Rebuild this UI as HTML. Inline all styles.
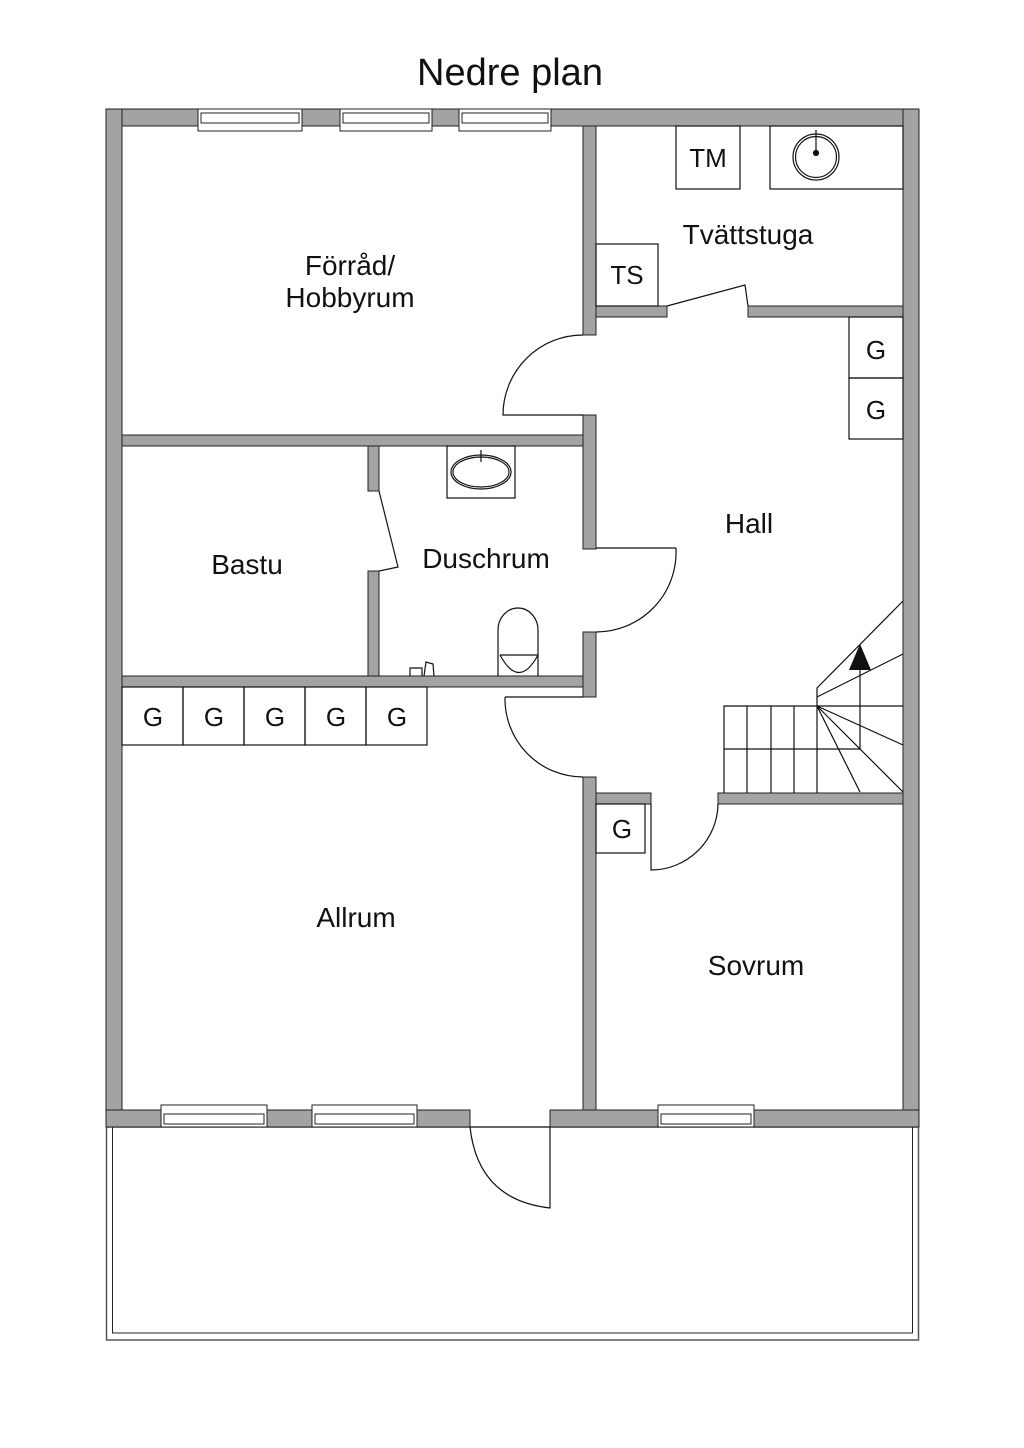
<!DOCTYPE html>
<html><head><meta charset="utf-8"><style>
html,body{margin:0;padding:0;background:#fff}
svg{display:block}
text{font-family:"Liberation Sans",sans-serif;fill:#111}
</style></head><body>
<svg width="1024" height="1448" viewBox="0 0 1024 1448" xmlns="http://www.w3.org/2000/svg">
<text x="510" y="85" font-size="38" text-anchor="middle">Nedre plan</text>

<rect x="106.5" y="1127" width="812" height="213" fill="none" stroke="#555" stroke-width="1.5"/>
<rect x="112.5" y="1127" width="800" height="206" fill="none" stroke="#222" stroke-width="1"/>

<g fill="#a3a3a3" stroke="#222" stroke-width="1">
<rect x="106" y="109" width="813" height="17"/>
<rect x="106" y="109" width="16" height="1018"/>
<rect x="903" y="109" width="16" height="1018"/>
<rect x="106" y="1110" width="364" height="17"/>
<rect x="550" y="1110" width="369" height="17"/>
<rect x="583" y="126" width="13" height="209"/>
<rect x="583" y="415" width="13" height="134"/>
<rect x="583" y="632" width="13" height="65"/>
<rect x="583" y="777" width="13" height="333"/>
<rect x="122" y="435" width="461" height="11"/>
<rect x="122" y="676" width="461" height="11"/>
<rect x="368" y="446" width="11" height="45"/>
<rect x="368" y="571" width="11" height="105"/>
<rect x="596" y="306" width="71" height="11"/>
<rect x="748" y="306" width="155" height="11"/>
<rect x="596" y="793" width="55" height="11"/>
<rect x="718" y="793" width="185" height="11"/>
</g>

<g fill="#fff" stroke="#222" stroke-width="1">
<rect x="198" y="109" width="104" height="22"/><rect x="201" y="113" width="98" height="10"/>
<rect x="340" y="109" width="92" height="22"/><rect x="343" y="113" width="86" height="10"/>
<rect x="459" y="109" width="92" height="22"/><rect x="462" y="113" width="86" height="10"/>
<rect x="161" y="1105" width="106" height="22"/><rect x="164" y="1114" width="100" height="10"/>
<rect x="312" y="1105" width="105" height="22"/><rect x="315" y="1114" width="99" height="10"/>
<rect x="658" y="1105" width="96" height="22"/><rect x="661" y="1114" width="90" height="10"/>
</g>

<g fill="none" stroke="#111" stroke-width="1.2">
<path d="M583 335 A80 80 0 0 0 503 415 L583 415"/>
<path d="M676 548 L596 548 M676 548 A80 80 0 0 1 596 632"/>
<path d="M505 697 L583 697 M505 697 A78 78 0 0 0 583 777"/>
<path d="M651 804 L651 870 A67 67 0 0 0 718 804"/>
<path d="M470 1127 Q478 1200 550 1208 L550 1127"/>
<path d="M667 306 L745 285 L748 306"/>
<path d="M379 491 L398 567 L379 571"/>
<rect x="596" y="244" width="62" height="62"/>
<rect x="676" y="126" width="64" height="63"/>
<rect x="770" y="126" width="133" height="63"/>
<circle cx="816" cy="157" r="23"/><circle cx="816" cy="157" r="20.5"/>
<line x1="816" y1="130" x2="816" y2="152"/>
<circle cx="816" cy="153" r="2.5" fill="#111"/>
<rect x="849" y="317" width="54" height="61"/>
<rect x="849" y="378" width="54" height="61"/>
<rect x="596" y="804" width="49" height="49"/>
<rect x="447" y="446" width="68" height="52"/>
<ellipse cx="481" cy="472" rx="30" ry="17"/><ellipse cx="481" cy="472" rx="28" ry="15"/>
<line x1="481" y1="450" x2="481" y2="462"/>
<path d="M498 676 L498 630 A20 22 0 0 1 538 630 L538 676"/>
<path d="M500 655 L538 655 M500 655 Q519 690 538 655"/>
<path d="M410 676 L410 668 L422 668 L422 676 M424 676 L426 662 L433 664 L434 676"/>
<rect x="122" y="687" width="61" height="58"/>
<rect x="183" y="687" width="61" height="58"/>
<rect x="244" y="687" width="61" height="58"/>
<rect x="305" y="687" width="61" height="58"/>
<rect x="366" y="687" width="61" height="58"/>
<path d="M724 793 V706 H903 M724 749 H860 M747 706 V793 M771 706 V793 M794 706 V793 M817 706 V793"/>
<path d="M817 706 L903 745 M817 706 L903 792 M817 706 L860 792 M817 706 L860 749 M817 706 V688 L903 601 M817 697 L903 654"/>
<path d="M860 749 V668"/>
</g>
<polygon points="860,644 849,670 871,670" fill="#111"/>

<g font-size="28" text-anchor="middle">
<text x="350" y="275">Förråd/</text>
<text x="350" y="307">Hobbyrum</text>
<text x="748" y="244">Tvättstuga</text>
<text x="247" y="574">Bastu</text>
<text x="486" y="568">Duschrum</text>
<text x="749" y="533">Hall</text>
<text x="356" y="927">Allrum</text>
<text x="756" y="975">Sovrum</text>
</g>
<g font-size="26" text-anchor="middle">
<text x="708" y="167">TM</text>
<text x="627" y="284">TS</text>
<text x="876" y="359">G</text>
<text x="876" y="419">G</text>
<text x="153" y="726">G</text>
<text x="214" y="726">G</text>
<text x="275" y="726">G</text>
<text x="336" y="726">G</text>
<text x="397" y="726">G</text>
<text x="622" y="838">G</text>
</g>
</svg>
</body></html>
